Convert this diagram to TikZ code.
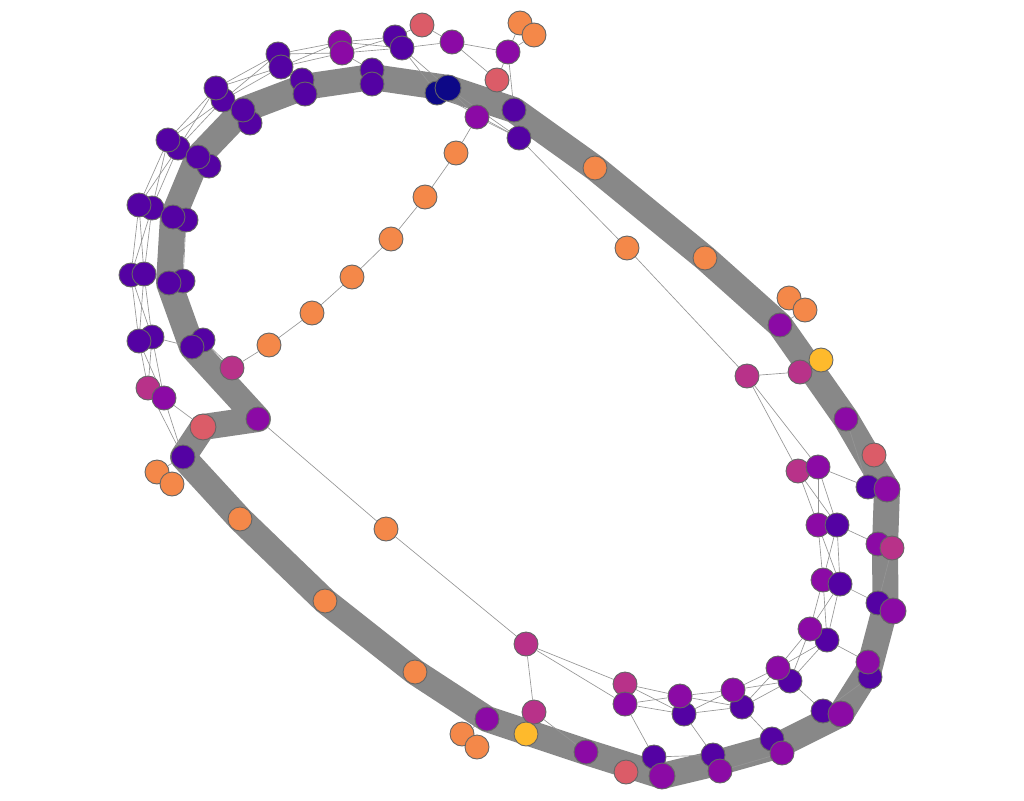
\documentclass[tikz,border=0pt]{standalone}
\usetikzlibrary{calc}
\definecolor{cDb}{HTML}{0D0887}
\definecolor{cInd}{HTML}{5402A3}
\definecolor{cPur}{HTML}{8B0AA5}
\definecolor{cMag}{HTML}{B83289}
\definecolor{cRed}{HTML}{DB5C68}
\definecolor{cOr}{HTML}{F48849}
\definecolor{cYel}{HTML}{FEBA2C}
\definecolor{bandc}{HTML}{888888}
\definecolor{edgec}{HTML}{959595}
\definecolor{ndb}{HTML}{666666}
\pgfdeclarelayer{bandlayer}
\pgfdeclarelayer{edgelayer}
\pgfsetlayers{bandlayer,edgelayer,main}
\tikzset{
 nd/.style={circle, draw=ndb, line width=0.9pt, minimum size=24pt, inner sep=0pt},
 db/.style={nd, fill=cDb},
 ind/.style={nd, fill=cInd},
 pur/.style={nd, fill=cPur},
 mag/.style={nd, fill=cMag},
 rd/.style={nd, fill=cRed},
 org/.style={nd, fill=cOr},
 yel/.style={nd, fill=cYel},
 band/.style={draw=bandc, line width=26pt, line join=round},
 thin/.style={draw=edgec, line width=0.65pt},
}
\begin{document}
\begin{tikzpicture}[x=1pt,y=-1pt]
\useasboundingbox (0,0) rectangle (1024,800);
% ---- outer left/top ladder
\node[ind] (a1) at (395,37) {};
\node[ind] (a2) at (402,48) {};
\node[rd]  (a3) at (422,25) {};
\node[pur] (a4) at (452,42) {};
\node[pur] (a5) at (340,42) {};
\node[pur] (a6) at (342,53) {};
\node[ind] (a7) at (278,54) {};
\node[ind] (a8) at (281,67) {};
\node[ind] (a10) at (223,100) {};
\node[ind] (a9) at (216,88) {};
\node[ind] (a12) at (178,148) {};
\node[ind] (a11) at (168,140) {};
\node[ind] (a14) at (152,208) {};
\node[ind] (a13) at (139,205) {};
\node[ind] (a15) at (131,275) {};
\node[ind] (a16) at (144,274) {};
\node[ind] (a18) at (152,337) {};
\node[ind] (a17) at (139,341) {};
\node[mag] (a19) at (148,388) {};
\node[pur] (a20) at (164,398) {};
% ---- inner ring (band) left/top
\node[ind] (b1p) at (203,340) {};
\node[ind] (b1) at (192,347) {};
\node[ind] (b2p) at (183,281) {};
\node[ind] (b2) at (169,283) {};
\node[ind] (b3p) at (186,220) {};
\node[ind] (b3) at (173,217) {};
\node[ind] (b4p) at (209,166) {};
\node[ind] (b4) at (198,157) {};
\node[ind] (b5p) at (250,123) {};
\node[ind] (b5) at (243,110) {};
\node[ind] (b6) at (302,80) {};
\node[ind] (b6p) at (305,94) {};
\node[ind] (b7) at (372,70) {};
\node[ind] (b7p) at (372,84) {};
\node[db]  (b8) at (437,93) {};
\node[db,minimum size=26pt] (b8p) at (448,88) {};
% ---- top right cluster
\node[ind] (c1) at (514,110) {};
\node[ind] (c2) at (519,138) {};
\node[pur] (c3) at (477,117) {};
\node[rd]  (c4) at (497,80) {};
\node[pur] (c5) at (508,52) {};
\node[org] (c6) at (520,23) {};
\node[org] (c7) at (534,35) {};
% ---- orange chain
\node[org] (k1) at (456,153) {};
\node[org] (k2) at (425,197) {};
\node[org] (k3) at (391,239) {};
\node[org] (k4) at (352,277) {};
\node[org] (k5) at (312,313) {};
\node[org] (k6) at (269,345) {};
\node[mag] (k7) at (232,368) {};
% ---- right band
\node[org] (r1) at (595,168) {};
\node[org] (r2) at (705,258) {};
\node[org] (i2) at (789,298) {};
\node[org] (i3) at (805,310) {};
\node[pur] (r3) at (780,325) {};
\node[yel] (i1) at (821,360) {};
\node[mag] (r4) at (800,372) {};
\node[pur] (r5) at (846,419) {};
\node[rd]  (r6) at (874,455) {};
\node[org] (h1) at (627,248) {};
\node[mag] (h2) at (747,376) {};
% ---- inner right ladder
\node[mag] (d1) at (798,471) {};
\node[pur] (d2) at (818,467) {};
\node[pur] (d3) at (818,525) {};
\node[ind] (d4) at (837,525) {};
\node[pur] (d5) at (823,580) {};
\node[ind] (d6) at (840,584) {};
\node[ind] (d8) at (827,640) {};
\node[pur] (d7) at (810,629) {};
\node[ind] (d10) at (790,681) {};
\node[pur] (d9) at (778,668) {};
\node[ind] (d12) at (742,707) {};
\node[pur] (d11) at (733,690) {};
\node[ind] (d14) at (684,714) {};
\node[pur] (d13) at (680,696) {};
\node[mag] (d15) at (625,684) {};
\node[pur] (d16) at (625,704) {};
\node[mag] (d17) at (526,644) {};
\node[mag] (d18) at (534,712) {};
% ---- outer right band
\node[ind] (e1) at (868,487) {};
\node[pur,minimum size=26pt] (e2) at (887,489) {};
\node[pur] (e3) at (878,544) {};
\node[mag] (e4) at (892,548) {};
\node[ind] (e5) at (878,603) {};
\node[pur,minimum size=26pt] (e6) at (893,611) {};
\node[ind] (e8) at (870,677) {};
\node[pur] (e7) at (868,662) {};
\node[ind] (e9) at (823,711) {};
\node[pur,minimum size=26pt] (e10) at (841,714) {};
\node[ind] (e11) at (772,739) {};
\node[pur] (e12) at (782,753) {};
\node[ind] (e13) at (713,755) {};
\node[pur] (e14) at (720,771) {};
\node[ind] (e15) at (654,757) {};
\node[pur,minimum size=26pt] (e16) at (662,776) {};
\node[rd]  (e17) at (626,772) {};
\node[pur] (e18) at (586,752) {};
\node[yel] (e19) at (526,734) {};
\node[org] (e21) at (462,734) {};
\node[org] (e22) at (477,747) {};
\node[pur] (e20) at (487,719) {};
\node[org] (e23) at (415,672) {};
\node[org] (e24) at (325,601) {};
\node[org] (e25) at (240,519) {};
\node[org] (f4) at (157,472) {};
\node[org] (f5) at (172,484) {};
\node[ind] (f1) at (183,457) {};
\node[rd,minimum size=26pt] (f2) at (203,427) {};
\node[pur] (f3) at (258,419) {};
\node[org] (g1) at (386,529) {};
% ---- band
\coordinate (B6) at ($(b6.center)!.5!(b6p.center)$);
\coordinate (B7) at ($(b7.center)!.5!(b7p.center)$);
\coordinate (E34) at ($(e3.center)!.5!(e4.center)$);
\coordinate (E56) at ($(e5.center)!.5!(e6.center)$);
\coordinate (E78) at ($(e7.center)!.5!(e8.center)$);
\coordinate (E1112) at ($(e11.center)!.5!(e12.center)$);
\coordinate (E1314) at ($(e13.center)!.5!(e14.center)$);
\begin{pgfonlayer}{bandlayer}
\draw[band] (b8p.center) -- (c1.center) -- (r1.center) -- (r2.center) -- (r3.center)
  -- (r5.center) -- (e2.center) -- (E34) -- (E56) -- (E78)
  -- (e10.center) -- (E1112) -- (E1314) -- (e16.center) -- (e18.center)
  -- (e20.center) -- (e23.center) -- (e24.center) -- (e25.center) -- (f1.center)
  -- (f2.center) -- (f3.center) -- (b1.center) -- (b2.center) -- (b3.center)
  -- (b4.center) -- (b5.center) -- (B6) -- (B7) -- (b8p.center);
\end{pgfonlayer}
% ---- thin edges
\begin{pgfonlayer}{edgelayer}
\foreach \u/\v in {a11/a9,a11/a10,a12/a9,a12/a10,
  a13/a11,a13/a12,a14/a11,a14/a12,
  a15/a13,a15/a14,a16/a13,a16/a14,
  a17/a15,a17/a16,a18/a15,a18/a16,
  a19/a17,a19/a18,a20/a17,a20/a18,
  a19/f1,a20/f1,a20/f2,a18/b1,
  a9/a7,a9/a8,a10/a7,a10/a8,
  a7/a5,a7/a6,a8/a5,a8/a6,
  a5/a1,a5/a2,a6/a1,a6/a2,
  a1/a3,a3/a4,a2/a4,a6/b7,a2/b8,a2/b8p,
  a4/c4,a4/c5,c5/c6,c5/c7,c6/c7,c5/c4,c5/c1,
  b8/c2,b8p/c2,c3/c2,b8p/c3,
  c3/k1,k1/k2,k2/k3,k3/k4,k4/k5,k5/k6,k6/k7,k7/b1p,
  c2/h1,h1/h2,h2/r4,h2/d1,h2/d2,i2/i3,i3/r3,
  d1/d2,d2/e1,d1/d3,d1/d4,d2/d3,d2/d4,
  d3/d5,d3/d6,d4/d5,d4/d6,d4/e3,
  d5/d7,d5/d8,d6/d7,d6/d8,d6/e5,
  d7/d9,d7/d10,d8/d9,d8/d10,d8/e7,
  d9/d11,d9/d12,d10/d11,d10/d12,d10/e9,
  d11/d13,d11/d14,d12/d13,d12/d14,d12/e11,
  d13/d15,d13/d16,d14/d15,d14/d16,d14/e13,
  d16/e15,d17/d15,d17/d16,d17/d18,d18/e18,
  f3/g1,g1/d17,e20/e21,e21/e22,
  e14/e12,e15/e13,e9/e8,r5/e1,e4/e5,b3p/b2p,f1/f4,f4/f5}
  \draw[thin] (\u) -- (\v);
\end{pgfonlayer}
\end{tikzpicture}
\end{document}
